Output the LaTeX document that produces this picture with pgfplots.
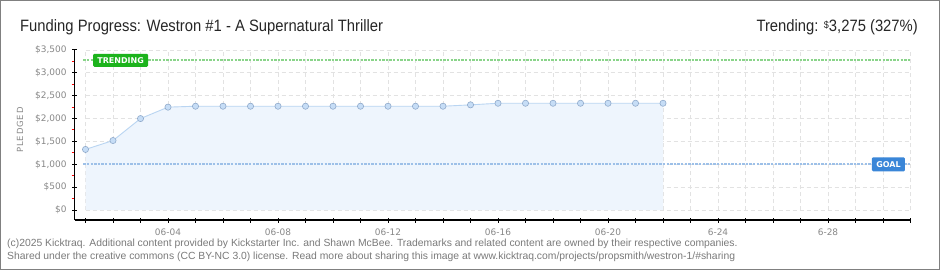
\documentclass[border=0pt]{standalone}
\usepackage{pgfplots}
\pgfplotsset{compat=1.18}
\usepackage{fontspec}
\setmainfont{Liberation Sans}
\newfontfamily\titlefont[FakeStretch=0.9]{Liberation Sans}
\newfontfamily\tickfont{DejaVu Sans}
\newfontfamily\lblfont[LetterSpace=10]{DejaVu Sans}
\definecolor{fillblue}{HTML}{EEF5FD}
\definecolor{lineblue}{HTML}{B9D5F2}
\definecolor{markfill}{HTML}{C6DDF6}
\definecolor{markdraw}{HTML}{90AACB}
\definecolor{trendgreen}{HTML}{8AD48A}
\definecolor{trendbox}{HTML}{1CB31C}
\definecolor{goalblue}{HTML}{9DC0E8}
\definecolor{goalbox}{HTML}{3A86D8}
\definecolor{gridgray}{HTML}{E2E2E2}
\definecolor{labgray}{HTML}{888888}
\definecolor{foot}{HTML}{7A7A7A}
\begin{document}
\begin{tikzpicture}[x=1bp,y=1bp]
\useasboundingbox (0,0) rectangle (940,270);
\fill[white] (0,0) rectangle (940,270);
% data axis with grid
\begin{axis}[
  at={(85.5bp,60bp)}, anchor=south west,
  scale only axis, width=825bp, height=160bp,
  xmin=1, xmax=31, ymin=0, ymax=3500,
  axis line style={draw=none},
  xtick={1,...,31}, ytick={0,500,...,3500},
  xticklabels={}, yticklabels={},
  major tick length=0pt,
  grid=major,
  major grid style={gridgray, dash pattern=on 4bp off 3bp, line width=0.8bp},
  clip=false,
]
\addplot[fill=fillblue, draw=none] coordinates {
(1,1325) (2,1520) (3,2000) (4,2250) (5,2270) (6,2270) (7,2270) (8,2270) (9,2270) (10,2270) (11,2270) (12,2270) (13,2270) (14,2270) (15,2300) (16,2335) (17,2335) (18,2335) (19,2335) (20,2335) (21,2335) (22,2335)
} \closedcycle;
\addplot[trendgreen, line width=2.2bp, dash pattern=on 2.4bp off 1.2bp] coordinates {(0.92,3275) (31,3275)};
\addplot[goalblue, line width=2.2bp, dash pattern=on 2.4bp off 1.2bp] coordinates {(0.92,1000) (31,1000)};
\addplot[lineblue, line width=0.9bp, mark=*, mark size=3.1bp, mark options={fill=markfill, draw=markdraw, line width=0.6bp}] coordinates {
(1,1325) (2,1520) (3,2000) (4,2250) (5,2270) (6,2270) (7,2270) (8,2270) (9,2270) (10,2270) (11,2270) (12,2270) (13,2270) (14,2270) (15,2300) (16,2335) (17,2335) (18,2335) (19,2335) (20,2335) (21,2335) (22,2335)
};
\node[anchor=west, fill=trendbox, text=white, rounded corners=1.2bp, inner xsep=4bp, minimum height=13bp, minimum width=55bp, font=\tickfont\bfseries\fontsize{8}{8}\selectfont] at (axis cs:1.27,3275) {TRENDING};
\node[anchor=west, fill=goalbox, text=white, rounded corners=1.2bp, inner xsep=3bp, minimum height=14bp, minimum width=33bp, font=\tickfont\bfseries\fontsize{8}{8}\selectfont] at (axis cs:29.59,1000) {GOAL};
\end{axis}
% axis lines and ticks
\begin{axis}[
  at={(74.5bp,50bp)}, anchor=south west,
  scale only axis, width=836bp, height=170bp,
  xmin=0.6, xmax=31, ymin=-218.75, ymax=3500,
  axis x line*=bottom, axis y line*=left,
  axis line style={-, black, line width=1.2bp},
  xtick={1,...,31},
  xticklabels={,,,06-04,,,,06-08,,,,06-12,,,,06-16,,,,06-20,,,,6-24,,,,6-28,,,},
  ytick={0,500,...,3500},
  yticklabels={\$0,\$500,{\$1,000},{\$1,500},{\$2,000},{\$2,500},{\$3,000},{\$3,500}},
  minor ytick={250,750,...,3250},
  tick align=center,
  major tick length=5bp, minor tick length=3bp,
  major tick style={black, line width=1bp},
  minor tick style={red, line width=1bp, xshift=-1.5bp},
  ticklabel style={font=\tickfont\fontsize{9}{9}\selectfont, text=labgray},
  xticklabel style={yshift=-2.5bp},
  yticklabel style={xshift=-2bp},
  grid=none,
]
\end{axis}
\node[rotate=90, font=\lblfont\fontsize{8.5}{9}\selectfont, text=labgray] at (20,140) {PLEDGED};
\node[anchor=base west, inner sep=0, font=\titlefont\fontsize{16.5}{18}\selectfont, text=black!85] at (20,239) {Funding Progress: Westron \#1 - A Supernatural Thriller};
\node[anchor=base east, inner sep=0, font=\titlefont\fontsize{16.5}{18}\selectfont, text=black!85] at (918,239) {Trending: \raisebox{3bp}{\fontsize{10}{10}\selectfont\$}3,275 (327\%)};
\node[anchor=base west, inner sep=0, font=\fontsize{10.4}{11}\selectfont, text=foot] at (7,24) {(c)2025 Kicktraq. Additional content provided by Kickstarter Inc. and Shawn McBee. Trademarks and related content are owned by their respective companies.};
\node[anchor=base west, inner sep=0, font=\fontsize{10.4}{11}\selectfont, text=foot] at (7,11) {Shared under the creative commons (CC BY-NC 3.0) license. Read more about sharing this image at www.kicktraq.com/projects/propsmith/westron-1/\#sharing};
\draw[draw=black!50, line width=1.5bp] (0.75,0.75) rectangle (939.25,269.25);
\end{tikzpicture}
\end{document}
